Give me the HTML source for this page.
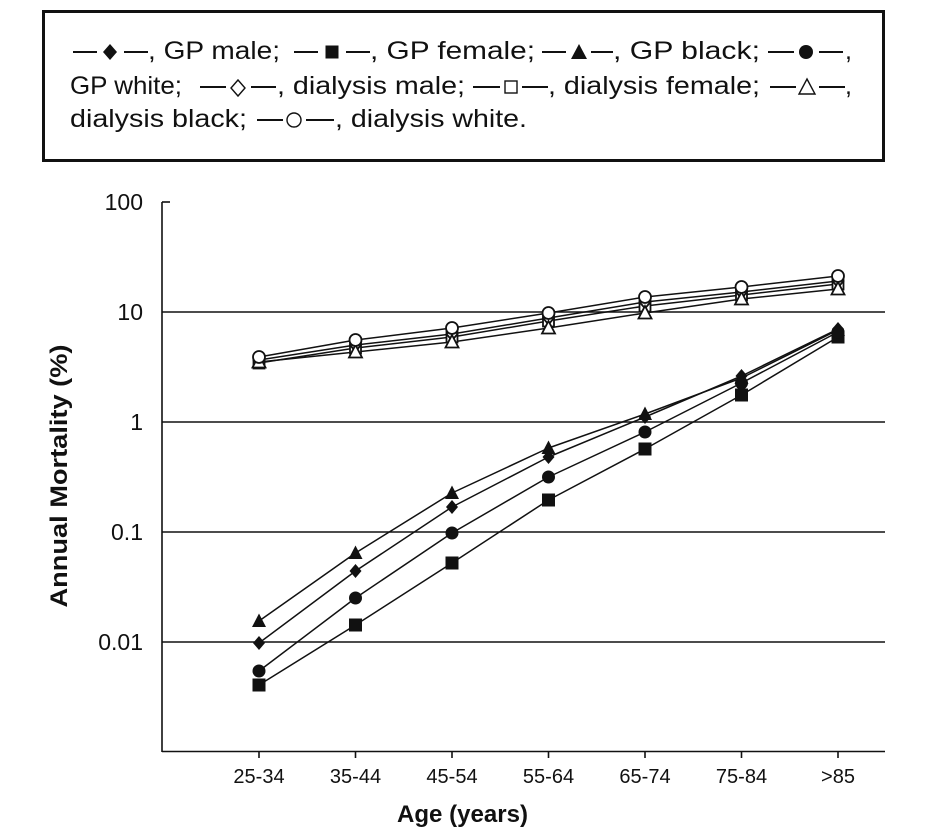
<!DOCTYPE html>
<html>
<head>
<meta charset="utf-8">
<style>
  html, body { margin: 0; padding: 0; background: #fff; }
  svg { display: block; }
  text { font-family: "Liberation Sans", "DejaVu Sans", sans-serif; fill: #111; }
</style>
</head>
<body>
<svg width="939" height="837" viewBox="0 0 939 837" xmlns="http://www.w3.org/2000/svg">
  <!-- Legend box -->
  <rect x="43.5" y="11.5" width="840" height="149" fill="#fff" stroke="#111" stroke-width="3"/>

  <g font-size="25">
    <text x="148" y="59" textLength="132" lengthAdjust="spacingAndGlyphs">, GP male;</text>
    <text x="370" y="59" textLength="165" lengthAdjust="spacingAndGlyphs">, GP female;</text>
    <text x="613" y="59" textLength="147" lengthAdjust="spacingAndGlyphs">, GP black;</text>
    <text x="845" y="59">,</text>

    <text x="70" y="94" textLength="112" lengthAdjust="spacingAndGlyphs">GP white;</text>
    <text x="277" y="94" textLength="188" lengthAdjust="spacingAndGlyphs">, dialysis male;</text>
    <text x="548" y="94" textLength="212" lengthAdjust="spacingAndGlyphs">, dialysis female;</text>
    <text x="845" y="94">,</text>

    <text x="70" y="127" textLength="177" lengthAdjust="spacingAndGlyphs">dialysis black;</text>
    <text x="335" y="127" textLength="192" lengthAdjust="spacingAndGlyphs">, dialysis white.</text>
  </g>
  <g stroke="#111" stroke-width="2">
    <line x1="73" y1="52" x2="97" y2="52"/><line x1="124" y1="52" x2="148" y2="52"/>
    <line x1="294" y1="52" x2="318" y2="52"/><line x1="346" y1="52" x2="370" y2="52"/>
    <line x1="542" y1="52" x2="566" y2="52"/><line x1="591" y1="52" x2="613" y2="52"/>
    <line x1="768" y1="52" x2="794" y2="52"/><line x1="819" y1="52" x2="843" y2="52"/>
    <line x1="200" y1="87" x2="226" y2="87"/><line x1="251" y1="87" x2="276" y2="87"/>
    <line x1="473" y1="87" x2="500" y2="87"/><line x1="522" y1="87" x2="548" y2="87"/>
    <line x1="770" y1="87" x2="796" y2="87"/><line x1="819" y1="87" x2="845" y2="87"/>
    <line x1="257" y1="120" x2="283" y2="120"/><line x1="306" y1="120" x2="334" y2="120"/>
  </g>
  <g fill="#111">
    <polygon points="110,44 117,52 110,60 103,52"/>
    <rect x="325.5" y="45.5" width="13" height="13"/>
    <polygon points="579,44 587,59 571,59"/>
    <circle cx="806" cy="52" r="7"/>
  </g>
  <g fill="none" stroke="#111" stroke-width="1.4">
    <polygon points="238,80 245,88 238,96 231,88"/>
    <rect x="505" y="81" width="12" height="12"/>
    <polygon points="807,79 815,94 799,94"/>
    <circle cx="294" cy="120" r="7"/>
  </g>

  <!-- Axes -->
  <g stroke="#111" stroke-width="1.6" fill="none">
    <line x1="162" y1="202" x2="162" y2="752"/>
    <line x1="162" y1="202" x2="170" y2="202"/>
    <line x1="162" y1="312" x2="885" y2="312"/>
    <line x1="162" y1="422" x2="885" y2="422"/>
    <line x1="162" y1="532" x2="885" y2="532"/>
    <line x1="162" y1="642" x2="885" y2="642"/>
    <line x1="162" y1="751.5" x2="885" y2="751.5"/>
    <line x1="259" y1="751" x2="259" y2="758"/>
    <line x1="355.5" y1="751" x2="355.5" y2="758"/>
    <line x1="452" y1="751" x2="452" y2="758"/>
    <line x1="548.5" y1="751" x2="548.5" y2="758"/>
    <line x1="645" y1="751" x2="645" y2="758"/>
    <line x1="741.5" y1="751" x2="741.5" y2="758"/>
    <line x1="838" y1="751" x2="838" y2="758"/>
  </g>

  <g font-size="23" text-anchor="end">
    <text x="143" y="210">100</text>
    <text x="143" y="320">10</text>
    <text x="143" y="430">1</text>
    <text x="143" y="540">0.1</text>
    <text x="143" y="650">0.01</text>
  </g>

  <g font-size="20" text-anchor="middle">
    <text x="259" y="783">25-34</text>
    <text x="355.5" y="783">35-44</text>
    <text x="452" y="783">45-54</text>
    <text x="548.5" y="783">55-64</text>
    <text x="645" y="783">65-74</text>
    <text x="741.5" y="783">75-84</text>
    <text x="838" y="783">&gt;85</text>
  </g>

  <text x="397" y="822" font-size="24" font-weight="bold" textLength="131" lengthAdjust="spacingAndGlyphs">Age (years)</text>
  <text transform="translate(67,476) rotate(-90)" x="0" y="0" font-size="24" font-weight="bold" text-anchor="middle" textLength="263" lengthAdjust="spacingAndGlyphs">Annual Mortality (%)</text>

  <g stroke="#111" stroke-width="1.5" fill="none" stroke-linejoin="round">
    <polyline points="259,357 355.5,340 452,328 548.5,313 645,297 741.5,287 838,276"/>
    <polyline points="259,362 355.5,352 452,342 548.5,328 645,313 741.5,299 838,289"/>
    <polyline points="259,360 355.5,345 452,334 548.5,318 645,302 741.5,292 838,281"/>
    <polyline points="259,363 355.5,348 452,337 548.5,321 645,306 741.5,295 838,284"/>
    <polyline points="259,621 355.5,553 452,493 548.5,448 645,414 741.5,378 838,330"/>
    <polyline points="259,643 355.5,571 452,507 548.5,457 645,417 741.5,376 838,329"/>
    <polyline points="259,671 355.5,598 452,533 548.5,477 645,432 741.5,383 838,332"/>
    <polyline points="259,685 355.5,625 452,563 548.5,500 645,449 741.5,395 838,337"/>
  </g>

  <defs>
    <polygon id="dia" points="0,-7 6,0 0,7 -6,0"/>
    <rect id="sq" x="-6.5" y="-6.5" width="13" height="13"/>
    <polygon id="tri" points="0,-7.5 7,6 -7,6"/>
    <circle id="cir" r="6.5"/>
    <polygon id="odia" points="0,-6.5 5.5,0 0,6.5 -5.5,0"/>
    <rect id="osq" x="-5.5" y="-5.5" width="11" height="11"/>
    <polygon id="otri" points="0,-7 6.5,5.5 -6.5,5.5"/>
    <circle id="ocir" r="6"/>
  </defs>

  <g fill="#fff" stroke="#111" stroke-width="1.8">
    <use href="#osq" x="259" y="363"/><use href="#osq" x="355.5" y="348"/><use href="#osq" x="452" y="337"/><use href="#osq" x="548.5" y="321"/><use href="#osq" x="645" y="306"/><use href="#osq" x="741.5" y="295"/><use href="#osq" x="838" y="284"/>
    <use href="#odia" x="259" y="360"/><use href="#odia" x="355.5" y="345"/><use href="#odia" x="452" y="334"/><use href="#odia" x="548.5" y="318"/><use href="#odia" x="645" y="302"/><use href="#odia" x="741.5" y="292"/><use href="#odia" x="838" y="281"/>
    <use href="#otri" x="259" y="362"/><use href="#otri" x="355.5" y="352"/><use href="#otri" x="452" y="342"/><use href="#otri" x="548.5" y="328"/><use href="#otri" x="645" y="313"/><use href="#otri" x="741.5" y="299"/><use href="#otri" x="838" y="289"/>
    <use href="#ocir" x="259" y="357"/><use href="#ocir" x="355.5" y="340"/><use href="#ocir" x="452" y="328"/><use href="#ocir" x="548.5" y="313"/><use href="#ocir" x="645" y="297"/><use href="#ocir" x="741.5" y="287"/><use href="#ocir" x="838" y="276"/>
  </g>

  <g fill="#111" stroke="none">
    <use href="#sq" x="259" y="685"/><use href="#sq" x="355.5" y="625"/><use href="#sq" x="452" y="563"/><use href="#sq" x="548.5" y="500"/><use href="#sq" x="645" y="449"/><use href="#sq" x="741.5" y="395"/><use href="#sq" x="838" y="337"/>
    <use href="#cir" x="259" y="671"/><use href="#cir" x="355.5" y="598"/><use href="#cir" x="452" y="533"/><use href="#cir" x="548.5" y="477"/><use href="#cir" x="645" y="432"/><use href="#cir" x="741.5" y="383"/><use href="#cir" x="838" y="332"/>
    <use href="#dia" x="259" y="643"/><use href="#dia" x="355.5" y="571"/><use href="#dia" x="452" y="507"/><use href="#dia" x="548.5" y="457"/><use href="#dia" x="645" y="417"/><use href="#dia" x="741.5" y="376"/><use href="#dia" x="838" y="329"/>
    <use href="#tri" x="259" y="621"/><use href="#tri" x="355.5" y="553"/><use href="#tri" x="452" y="493"/><use href="#tri" x="548.5" y="448"/><use href="#tri" x="645" y="414"/><use href="#tri" x="741.5" y="378"/><use href="#tri" x="838" y="330"/>
  </g>
</svg>
</body>
</html>
